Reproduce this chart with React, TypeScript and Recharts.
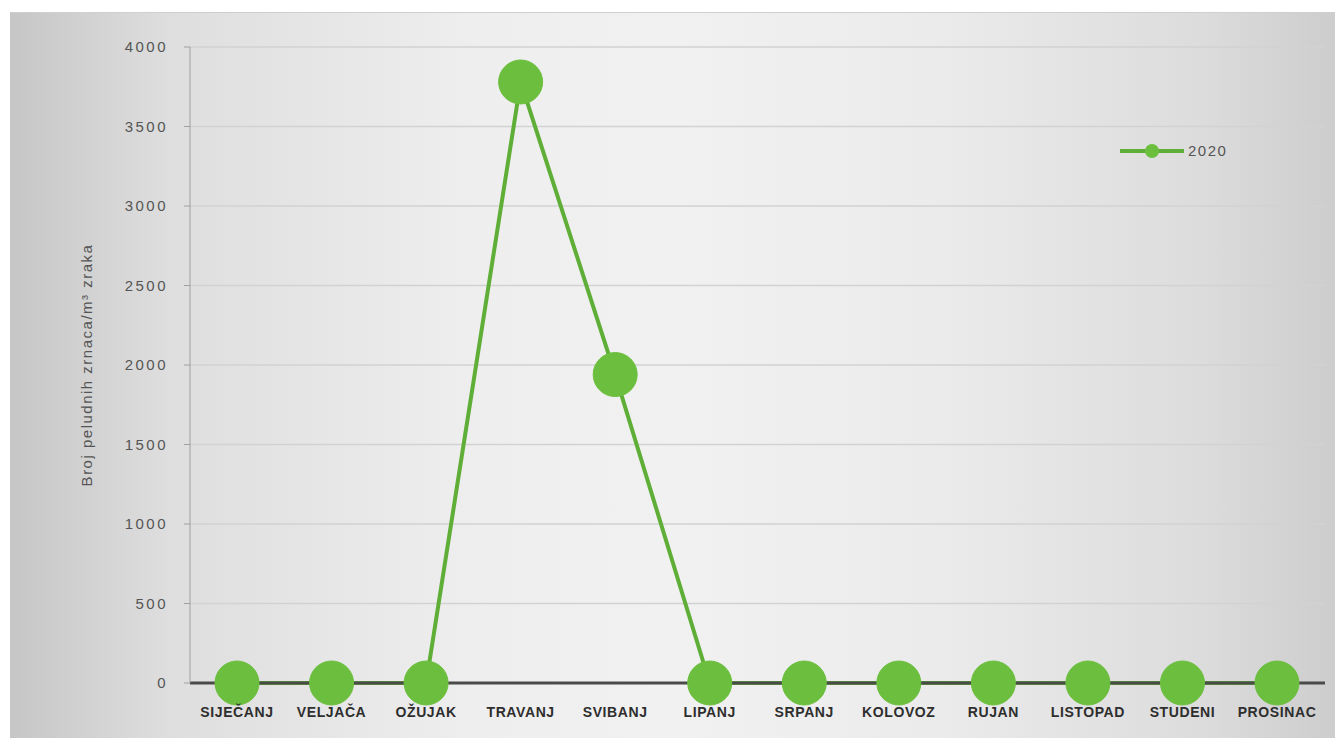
import React from 'react';
import { LineChart, Line, CartesianGrid, XAxis, YAxis } from 'recharts';

const months = [
    'SIJEČANJ',
    'VELJAČA',
    'OŽUJAK',
    'TRAVANJ',
    'SVIBANJ',
    'LIPANJ',
    'SRPANJ',
    'KOLOVOZ',
    'RUJAN',
    'LISTOPAD',
    'STUDENI',
    'PROSINAC',
];
const values2020 = [0, 0, 0, 3780, 1940, 0, 0, 0, 0, 0, 0, 0];
const yTicks = [0, 500, 1000, 1500, 2000, 2500, 3000, 3500, 4000];

const data = months.map((month, i) => ({ month, y2020: values2020[i] }));

const GREEN_LINE = '#5fae37';
const GREEN_DOT = '#6cbf3e';

// legend drawn by hand, a Recharts Legend would eat plot height
const LegendBox = () => (
    <div
        style={{
            position: 'absolute',
            left: 1118,
            top: 142,
            display: 'flex',
            alignItems: 'center',
            fontFamily: 'Liberation Sans, Arial, sans-serif',
            fontSize: 15,
            letterSpacing: 1.5,
            color: '#555',
        }}
    >
        <svg width={68} height={16}>
            <line x1={2} y1={8} x2={66} y2={8} stroke={GREEN_LINE} strokeWidth={4} />
            <circle cx={34} cy={8} r={7} fill={GREEN_DOT} />
        </svg>
        <span style={{ marginLeft: 2 }}>2020</span>
    </div>
);

export default function App() {
    return (
        <div style={{ position: 'absolute', left: 0, top: 0, width: 1335, height: 744, background: '#fff', overflow: 'hidden' }}>
            <div
                style={{
                    position: 'absolute',
                    left: 10,
                    top: 12,
                    width: 1325,
                    height: 725,
                    background:
                        'linear-gradient(to right, #c6c6c6 0%, #dedede 12%, #eeeeee 35%, #f1f1f1 50%, #ebebeb 70%, #dcdcdc 90%, #cdcdcd 100%)',
                    borderTop: '1px solid #cfcfcf',
                }}
            />
            <div style={{ position: 'absolute', left: 0, top: 0 }}>
                <LineChart width={1335} height={744} data={data} margin={{ top: 47, right: 10, left: 130, bottom: 31 }}>
                    <CartesianGrid vertical={false} stroke="#d2d2d2" strokeWidth={1.5} />
                    <XAxis
                        dataKey="month"
                        interval={0}
                        height={30}
                        padding={{ left: 47, right: 48 }}
                        axisLine={{ stroke: '#4a4a4a', strokeWidth: 3 }}
                        tickLine={false}
                        tickSize={0}
                        tickMargin={24}
                        tick={{ fill: '#2e2e2e', fontSize: 14, fontWeight: 700, letterSpacing: 0.6, fontFamily: 'Liberation Sans, Arial, sans-serif' }}
                    />
                    <YAxis
                        width={60}
                        domain={[0, 4000]}
                        ticks={yTicks}
                        axisLine={{ stroke: '#a0a0a0', strokeWidth: 1 }}
                        tickLine={{ stroke: '#a0a0a0' }}
                        tickSize={6}
                        tickMargin={16}
                        tick={{ fill: '#555', fontSize: 15, letterSpacing: 2.5, fontFamily: 'Liberation Sans, Arial, sans-serif' }}
                        label={{
                            value: 'Broj peludnih zrnaca/m³ zraka',
                            angle: -90,
                            position: 'insideLeft',
                            dx: -48,
                            dy: 0,
                            style: { textAnchor: 'middle', fill: '#555', fontSize: 15, letterSpacing: 1.5, fontFamily: 'Liberation Sans, Arial, sans-serif' },
                        }}
                    />
                    <Line
                        type="linear"
                        dataKey="y2020"
                        name="2020"
                        stroke={GREEN_LINE}
                        strokeWidth={4}
                        dot={{ r: 22, fill: GREEN_DOT, stroke: GREEN_DOT, strokeWidth: 1 }}
                        activeDot={false}
                        isAnimationActive={false}
                    />
                </LineChart>
            </div>
            <LegendBox />
        </div>
    );
}
